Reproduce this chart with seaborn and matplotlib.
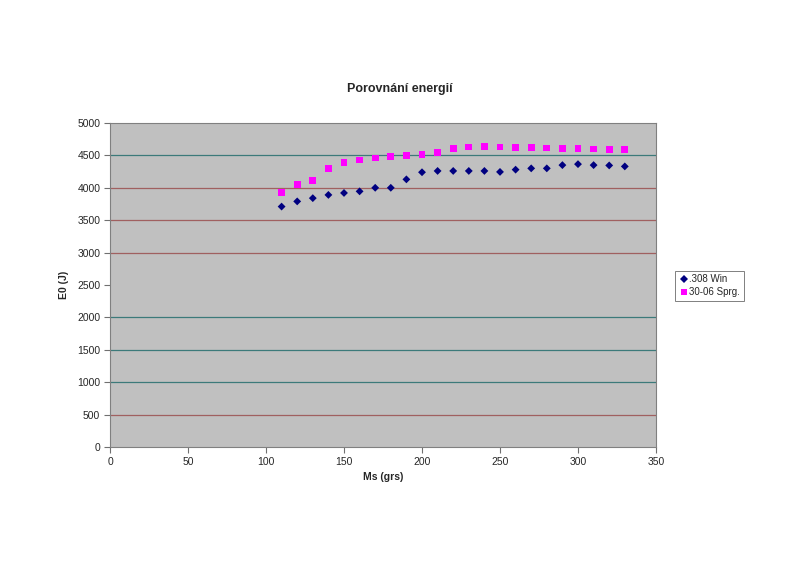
import matplotlib
matplotlib.use("Agg")
import matplotlib.pyplot as plt
import seaborn as sns
import pandas as pd

mass = [110, 120, 130, 140, 150, 160, 170, 180, 190, 200, 210, 220,
        230, 240, 250, 260, 270, 280, 290, 300, 310, 320, 330]
win308 = [3710, 3790, 3840, 3890, 3920, 3945, 4000, 4000, 4130, 4240, 4260, 4260,
          4260, 4260, 4245, 4280, 4300, 4300, 4350, 4365, 4350, 4345, 4330]
sprg3006 = [3930, 4050, 4110, 4300, 4385, 4430, 4460, 4480, 4495, 4515, 4550, 4610,
            4630, 4635, 4630, 4625, 4620, 4615, 4610, 4610, 4600, 4590, 4585]
series_names = [".308 Win", "30-06 Sprg."]
title = "Porovnání energií"
xlabel = "Ms (grs)"
ylabel = "E0 (J)"

df = pd.DataFrame({
    "Ms": mass * 2,
    "E0": win308 + sprg3006,
    "series": [series_names[0]] * len(mass) + [series_names[1]] * len(mass),
})

sns.set_style("white")
plt.rcParams["font.family"] = ["Liberation Sans", "DejaVu Sans"]

fig = plt.figure(figsize=(8, 5.65), dpi=100)
ax = fig.add_axes([0.1375, 0.209, 0.6825, 0.5733])
ax.set_facecolor("#C0C0C0")

grid_colors = {500: "#A06060", 1000: "#3C7A7A", 1500: "#3C7A7A", 2000: "#3C7A7A",
               2500: None, 3000: "#A06060", 3500: "#A06060", 4000: "#A06060", 4500: "#3C7A7A"}
for yv, c in grid_colors.items():
    if c:
        ax.axhline(yv, color=c, lw=0.9, zorder=1)

sns.scatterplot(data=df, x="Ms", y="E0", hue="series", style="series", size="series",
                palette={series_names[0]: "#000080", series_names[1]: "#FF00FF"},
                markers={series_names[0]: "D", series_names[1]: "s"},
                sizes={series_names[0]: 16, series_names[1]: 24},
                linewidth=0, ax=ax, zorder=3)

ax.set_xlim(0, 350)
ax.set_ylim(0, 5000)
ax.set_xticks(range(0, 351, 50))
ax.set_yticks(range(0, 5001, 500))
ax.tick_params(axis="both", labelsize=7.5, length=4, direction="out", color="#707070",
               bottom=True, left=True, pad=3)
for sp in ax.spines.values():
    sp.set_color("#808080")
    sp.set_linewidth(0.8)

ax.set_xlabel(xlabel, fontsize=7.5, fontweight="bold", labelpad=4)
ax.set_ylabel(ylabel, fontsize=7.5, fontweight="bold", labelpad=6)
fig.text(0.5, 0.843, title, ha="center", va="center", fontsize=9, fontweight="bold")

ax.get_legend().remove()
handles, labels = ax.get_legend_handles_labels()
leg = fig.legend(handles, labels, loc="upper left", bbox_to_anchor=(0.838, 0.529),
                 fontsize=7, frameon=True, fancybox=False, handletextpad=0.1,
                 borderpad=0.35, labelspacing=0.3, handlelength=1.0)
leg.get_frame().set_edgecolor("#606060")
leg.get_frame().set_linewidth(0.7)

fig.savefig("out.png", dpi=100, facecolor="white")
